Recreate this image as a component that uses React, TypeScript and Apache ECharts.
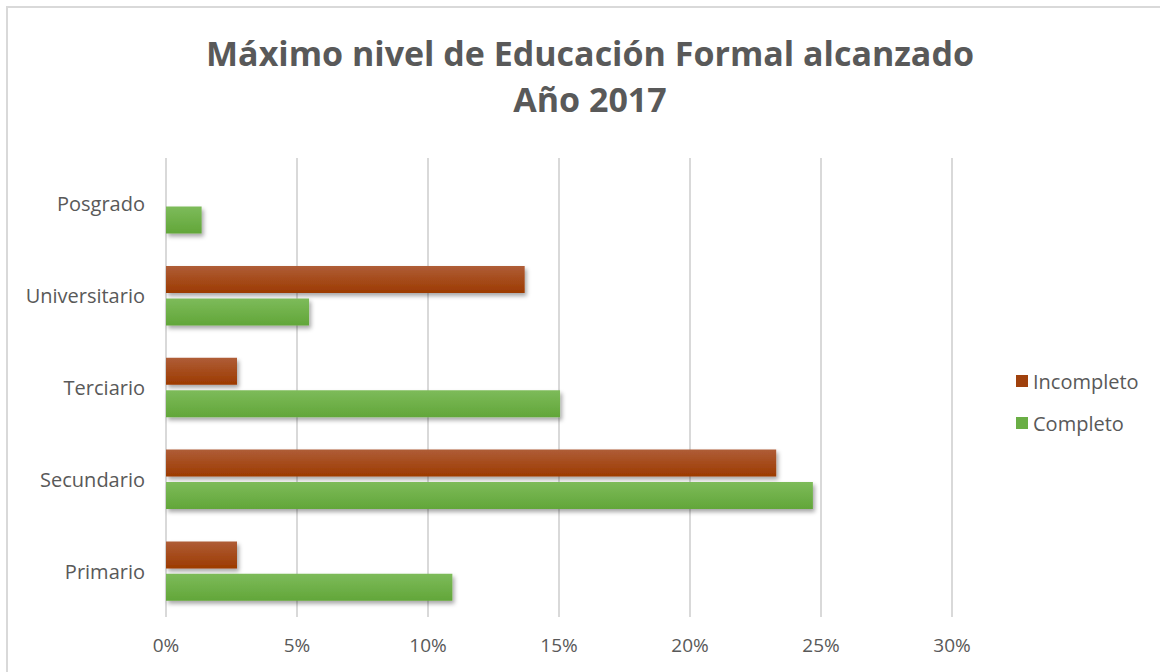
import React, { useEffect, useRef } from "react";
import * as echarts from "echarts";

const categories = ["Primario", "Secundario", "Terciario", "Universitario", "Posgrado"];
const incompleto = [2.71, 23.29, 2.71, 13.69, 0];
const completo = [10.93, 24.69, 15.04, 5.46, 1.36];
const titleText = "Máximo nivel de Educación Formal alcanzado\nAño 2017";

const FONT = "'Open Sans', sans-serif";
const TXT = "#595959";

export default function App() {
  const ref = useRef<HTMLDivElement>(null);
  useEffect(() => {
    document.body.style.margin = "0";
    const chart = echarts.init(ref.current!, null, { renderer: "svg" });
    const grad = (a: string, b: string) =>
      new echarts.graphic.LinearGradient(0, 0, 0, 1, [
        { offset: 0, color: a },
        { offset: 1, color: b },
      ]);
    const shadow = {
      shadowColor: "rgba(0,0,0,0.35)",
      shadowBlur: 4,
      shadowOffsetX: 2,
      shadowOffsetY: 3,
    };
    chart.setOption({
      animation: false,
      backgroundColor: "#ffffff",
      graphic: [
        {
          type: "rect",
          shape: { x: 7, y: 7, width: 1200, height: 720 },
          style: { fill: "none", stroke: "#D9D9D9", lineWidth: 2 },
          silent: true,
        },
      ],
      title: {
        text: titleText,
        left: 585,
        textAlign: "center",
        top: 25,
        textStyle: {
          fontFamily: FONT,
          fontWeight: "bold",
          fontSize: 34,
          color: TXT,
          lineHeight: 46,
        },
      },
      legend: {
        orient: "vertical",
        left: 1011,
        top: 366,
        itemWidth: 12,
        itemHeight: 12,
        itemGap: 22,
        icon: "rect",
        data: [
          { name: "Incompleto", itemStyle: { color: "#A0410D", shadowBlur: 0, shadowOffsetX: 0, shadowOffsetY: 0 } },
          { name: "Completo", itemStyle: { color: "#6AAE45", shadowBlur: 0, shadowOffsetX: 0, shadowOffsetY: 0 } },
        ],
        textStyle: { fontFamily: FONT, fontSize: 20, color: TXT },
      },
      grid: { left: 166, top: 158, right: 208, bottom: 55, containLabel: false },
      xAxis: {
        type: "value",
        min: 0,
        max: 30,
        interval: 5,
        axisLine: { show: false },
        axisTick: { show: false },
        splitLine: { show: true, lineStyle: { color: "#D9D9D9", width: 2 } },
        axisLabel: {
          formatter: "{value}%",
          fontFamily: FONT,
          fontSize: 19,
          color: TXT,
          margin: 18,
        },
      },
      yAxis: {
        type: "category",
        data: categories,
        axisLine: { show: false },
        axisTick: { show: false },
        axisLabel: { fontFamily: FONT, fontSize: 20, color: TXT, margin: 21 },
      },
      series: [
        {
          name: "Incompleto",
          type: "bar",
          data: incompleto,
          barWidth: 27,
          barGap: "20%",
          itemStyle: { color: grad("#AF5D37", "#9C3A00"), ...shadow },
        },
        {
          name: "Completo",
          type: "bar",
          data: completo,
          barWidth: 27,
          barGap: "20%",
          itemStyle: { color: grad("#7DBB5A", "#62A639"), ...shadow },
        },
      ],
    });
    return () => chart.dispose();
  }, []);
  return <div ref={ref} style={{ width: 1160, height: 672 }} />;
}
